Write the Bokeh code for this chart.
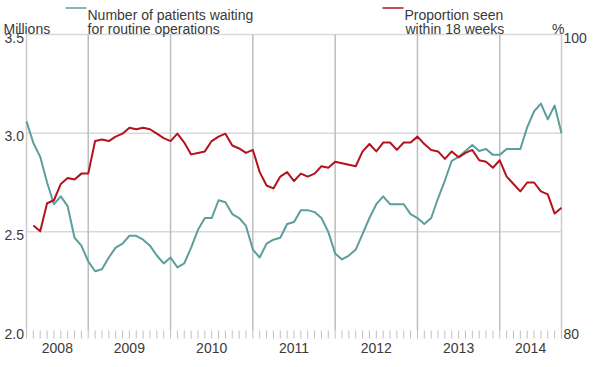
from bokeh.plotting import figure
from bokeh.models import Range1d, FixedTicker
from bokeh.core.properties import value
from bokeh.embed import file_html
from bokeh.resources import INLINE

# ---------------- data ----------------
start_year, start_month = 2008, 4          # first monthly observation: April 2008
# Number of patients waiting for routine operations (millions), monthly
waiting = [3.06, 2.95, 2.88, 2.75, 2.64, 2.68, 2.63, 2.47, 2.43, 2.35,
           2.30, 2.31, 2.37, 2.42, 2.44, 2.48, 2.48, 2.46, 2.43, 2.38,
           2.34, 2.37, 2.32, 2.34, 2.42, 2.51, 2.57, 2.57, 2.66, 2.65,
           2.59, 2.57, 2.53, 2.41, 2.37, 2.44, 2.46, 2.47, 2.54, 2.55,
           2.61, 2.61, 2.60, 2.57, 2.50, 2.39, 2.36, 2.38, 2.41, 2.49,
           2.57, 2.64, 2.68, 2.64, 2.64, 2.64, 2.59, 2.57, 2.54, 2.57,
           2.67, 2.76, 2.86, 2.88, 2.91, 2.94, 2.91, 2.92, 2.89, 2.89,
           2.92, 2.92, 2.92, 3.03, 3.11, 3.15, 3.07, 3.14, 3.00]
# Proportion seen within 18 weeks (%), same months (None = no value)
proportion = [None, 87.1, 86.7, 88.6, 88.8, 89.9, 90.3, 90.2, 90.6, 90.6,
              92.8, 92.9, 92.8, 93.1, 93.3, 93.7, 93.6, 93.7, 93.6, 93.3,
              93.0, 92.8, 93.3, 92.7, 91.9, 92.0, 92.1, 92.8, 93.1, 93.3,
              92.5, 92.3, 92.0, 92.2, 90.7, 89.8, 89.6, 90.4, 90.7, 90.1,
              90.6, 90.4, 90.6, 91.1, 91.0, 91.4, None, None, 91.1, 92.1,
              92.6, 92.1, 92.7, 92.7, 92.2, 92.7, 92.7, 93.1, 92.6, 92.2,
              92.1, 91.6, 92.1, 91.7, 92.0, 92.2, 91.5, 91.4, 91.0, 91.5,
              90.4, 89.9, 89.4, 90.0, 90.0, 89.4, 89.2, 87.9, 88.3]
years = ["2008", "2009", "2010", "2011", "2012", "2013", "2014"]
left_ticks = [2.0, 2.5, 3.0, 3.5]
right_ticks = [80, 100]
legend_waiting = ["Number of patients waiting", "for routine operations"]
legend_prop = ["Proportion seen", "within 18 weeks"]
unit_left = "Millions"
unit_right = "%"

# ---------------- derived ----------------
def month_x(i):
    return start_year + (start_month - 1 + i) / 12.0

xs = [month_x(i) for i in range(len(waiting))]
red_x = [xs[i] for i, v in enumerate(proportion) if v is not None]
red_y = [v for v in proportion if v is not None]
x0, x1 = xs[0], xs[-1]
lo, hi = left_ticks[0], left_ticks[-1]
plo, phi = right_ticks[0], right_ticks[-1]

# layout (pixels inside the figure)
W, H = 592, 359
plot_left, plot_right = 26, 561       # where x0 / x1 sit
plot_top, plot_bottom = 34, 330       # where hi / lo sit
frame_bottom = 342                    # room for monthly ticks and the bottom scale label
tick_len = 8
ppy = (plot_right - plot_left) / (x1 - x0)          # pixels per year
ppu = (plot_bottom - plot_top) / (hi - lo)          # pixels per million
y_top = hi + plot_top / ppu
y_bot = lo - (frame_bottom - plot_bottom) / ppu
k = (phi - plo) / (hi - lo)


def px_to_x(px):
    return x0 + (px - plot_left) / ppy


TEAL = "#5c9e9c"
RED = "#b3131e"
TXT = "#3a3a3a"
FONT = "Liberation Sans"
txt = dict(text_font=value(FONT), text_font_size=value("14px"), text_color=TXT)

p = figure(width=W, height=H,
           x_range=Range1d(x0 - plot_left / ppy, x1 + (W - plot_right) / ppy),
           y_range=Range1d(y_bot, y_top),
           y_axis_location=None,
           output_backend="svg", toolbar_location=None,
           min_border_left=0, min_border_right=0, min_border_top=0,
           min_border_bottom=H - frame_bottom)
p.extra_y_ranges = {"pct": Range1d(plo + (y_bot - lo) * k, phi + (y_top - hi) * k)}
p.outline_line_color = None
p.background_fill_color = "white"
p.border_fill_color = "white"
p.xgrid.visible = False
p.ygrid.visible = False

# horizontal grid lines, year separators and frame sides
p.segment(x0=[x0] * 3, y0=left_ticks[1:], x1=[x1] * 3, y1=left_ticks[1:],
          line_color="#d9d9d9", line_width=1.5)
year_nums = [int(y) for y in years]
inner_years = [y for y in year_nums if x0 < y < x1]
p.segment(x0=inner_years, y0=[lo] * len(inner_years), x1=inner_years, y1=[hi] * len(inner_years),
          line_color="#bdbdbd", line_width=1.5)
p.segment(x0=[x0, x1], y0=[lo, lo], x1=[x0, x1], y1=[hi, hi], line_color="#cccccc", line_width=1.5)

# monthly ticks below the base line
p.segment(x0=xs, y0=[lo] * len(xs), x1=xs, y1=[lo - tick_len / ppu] * len(xs),
          line_color="#bfbfbf", line_width=1)

# x axis: year labels centred on each year's visible span
label_pos = [(max(y, x0) + min(y + 1, x1)) / 2.0 for y in year_nums]
xa = p.xaxis[0]
xa.ticker = FixedTicker(ticks=label_pos)
xa.major_label_overrides = {pos: lab for pos, lab in zip(label_pos, years)}
xa.major_tick_out = 0
xa.major_tick_in = 0
xa.major_tick_line_color = None
xa.minor_tick_line_color = None
xa.axis_line_color = None
xa.major_label_standoff = 0
xa.major_label_text_font = FONT
xa.major_label_text_font_size = "14px"
xa.major_label_text_color = TXT

# scale labels, hanging just below their lines
p.text(x=[x0] * len(left_ticks), y=left_ticks, text=["%.1f" % t for t in left_ticks],
       x_offset=-2.5, y_offset=-2, text_align="right", text_baseline="top", **txt)
p.text(x=[x1] * len(right_ticks), y=right_ticks, text=["%d" % t for t in right_ticks],
       y_range_name="pct", x_offset=2, y_offset=-2, text_align="left", text_baseline="top", **txt)

# series
p.line(xs, waiting, line_color=TEAL, line_width=2, line_join="round")
p.line(red_x, red_y, y_range_name="pct", line_color=RED, line_width=2, line_join="round")

# unit labels
p.text(x=[x0], y=[hi], text=[unit_left], x_offset=-23, y_offset=-6,
       text_align="left", text_baseline="alphabetic", **txt)
p.text(x=[x1], y=[hi], text=[unit_right], x_offset=3, y_offset=-6,
       text_align="right", text_baseline="alphabetic", **txt)

# legend texts
leg_text = legend_waiting + legend_prop
leg_x = [px_to_x(87), px_to_x(87), px_to_x(404), px_to_x(405)]
leg_dy = [-20, -6, -20, -6]
p.text(x=leg_x, y=[hi] * 4, text=leg_text, y_offset=leg_dy,
       text_align="left", text_baseline="alphabetic", **txt)

# legend keys
seg_y = hi + 26.5 / ppu
p.segment(x0=[px_to_x(65)], y0=[seg_y], x1=[px_to_x(86)], y1=[seg_y], line_color=TEAL, line_width=1.5)
p.segment(x0=[px_to_x(382)], y0=[seg_y], x1=[px_to_x(403)], y1=[seg_y], line_color=RED, line_width=1.5)

open("out.html", "w").write(file_html(p, INLINE))
